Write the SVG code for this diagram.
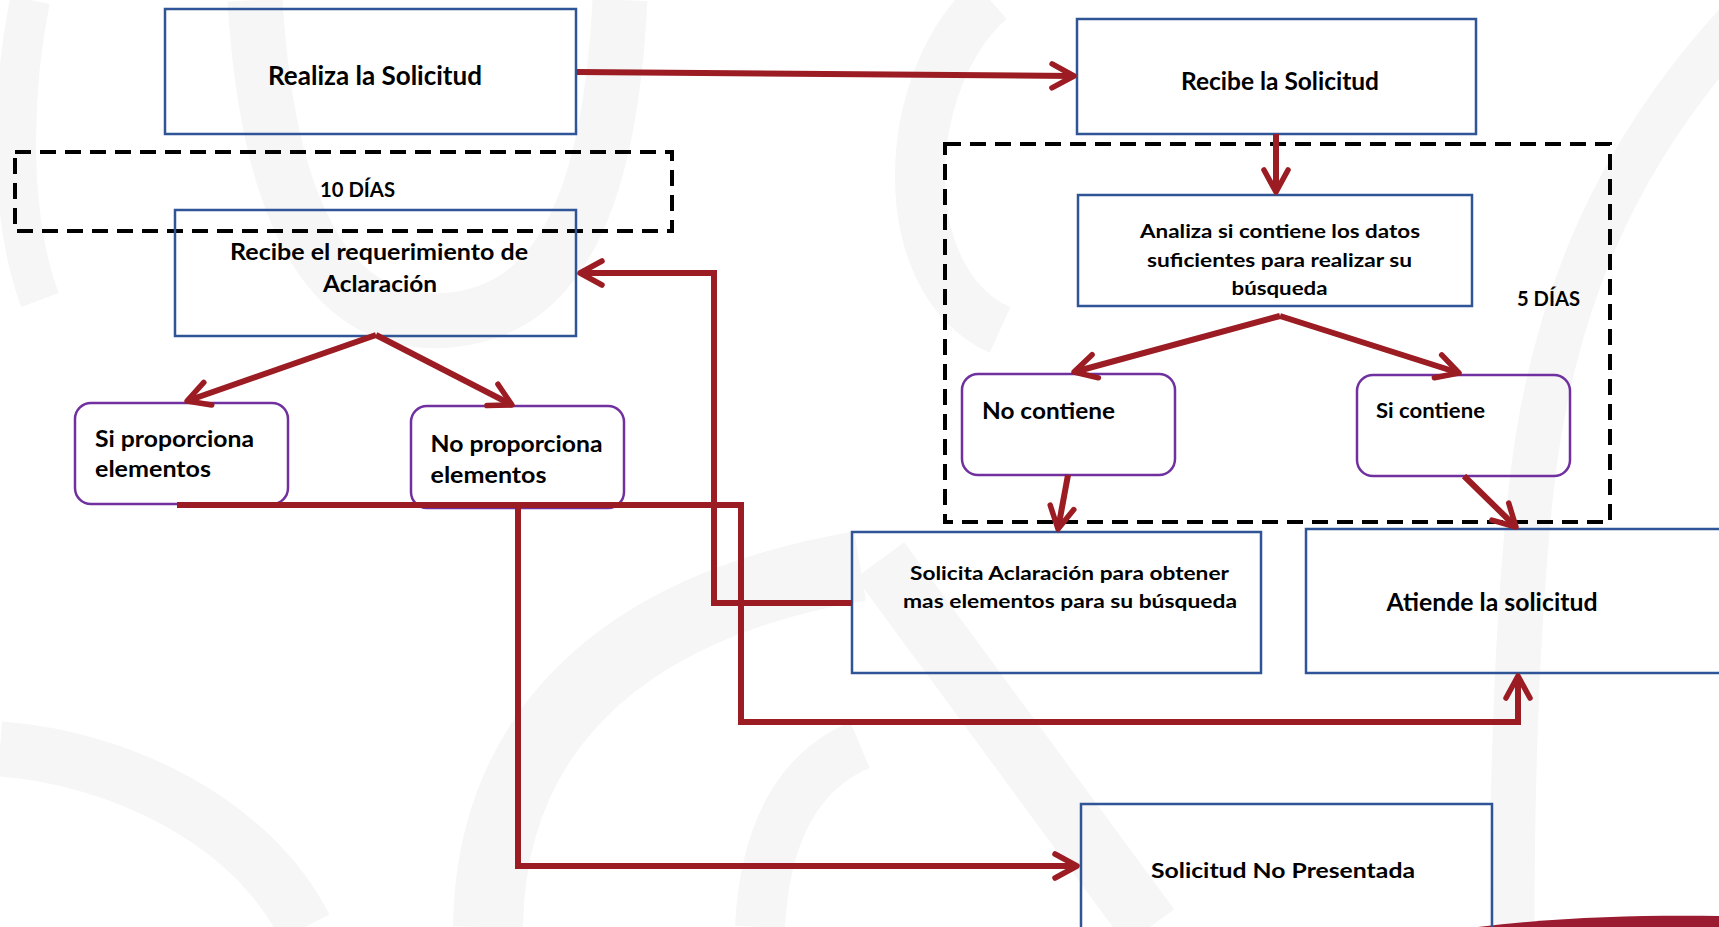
<svg xmlns="http://www.w3.org/2000/svg" width="1719" height="927" viewBox="0 0 1719 927">
  <style>
    .box { fill: none; stroke: #2F5597; stroke-width: 2.5; }
    .rbox { fill: none; stroke: #7030A0; stroke-width: 2.5; }
    .dash { fill: none; stroke: #000; stroke-width: 4; stroke-dasharray: 16 9; }
    .conn { fill: none; stroke: #9C1C23; stroke-width: 6; stroke-linejoin: miter; }
    .t { font-family: Lato, "Liberation Sans", sans-serif; font-weight: bold; fill: #000; }
    .wm { fill: none; stroke: #F6F6F6; stroke-linecap: butt; }
  </style>
  <defs>
    <marker id="arr" markerUnits="userSpaceOnUse" viewBox="-26 -15 30 30" refX="0" refY="0" markerWidth="30" markerHeight="30" orient="auto" overflow="visible">
      <path d="M-22,-12 L0,0 L-22,12" fill="none" stroke="#9C1C23" stroke-width="5.5" stroke-linecap="round" stroke-linejoin="round"/>
    </marker>
  </defs>
  <rect width="1719" height="927" fill="#fff"/>
  <g id="watermark">
    <path class="wm" stroke-width="45" d="M1740,20 C1620,150 1550,300 1530,500 C1515,650 1512,800 1512,927"/>
    <path class="wm" stroke-width="55" d="M0,749 C120,758 250,820 305,927"/>
    <path class="wm" stroke-width="70" d="M488,927 C490,750 600,610 860,566"/>
    <path class="wm" stroke-width="50" d="M760,927 C765,830 800,770 860,745"/>
    <path class="wm" stroke-width="60" d="M880,560 L1150,927"/>
    <path class="wm" stroke-width="40" d="M30,0 C10,100 10,220 40,300"/>
    <path class="wm" stroke-width="55" d="M255,0 C270,250 350,330 450,320 C560,310 610,200 620,0"/>
    <path class="wm" stroke-width="50" d="M990,0 C900,80 890,280 1000,330"/>
  </g>
  <path d="M1478,927 C1560,917 1640,915 1719,916 L1719,927 Z" fill="#9B1B30"/>

  <g id="dias10">
    <rect class="dash" x="15" y="152" width="657" height="79"/>
    <text class="t" x="320" y="197" font-size="20.5" textLength="75" lengthAdjust="spacingAndGlyphs">10 DÍAS</text>
  </g>
  <g id="dias5">
    <rect class="dash" x="945" y="144" width="665" height="378"/>
    <text class="t" x="1517" y="305.5" font-size="20" textLength="63" lengthAdjust="spacingAndGlyphs">5 DÍAS</text>
  </g>

  <g id="realiza">
    <rect class="box" x="165" y="9" width="411" height="125"/>
    <text class="t" x="268" y="85" font-size="26" textLength="214" lengthAdjust="spacingAndGlyphs">Realiza la Solicitud</text>
  </g>
  <g id="recibe">
    <rect class="box" x="1077" y="19" width="399" height="115"/>
    <text class="t" x="1181" y="90" font-size="24" textLength="198" lengthAdjust="spacingAndGlyphs">Recibe la Solicitud</text>
  </g>
  <g id="requerimiento">
    <rect class="box" x="175" y="210" width="401" height="126"/>
    <text class="t" x="230" y="260" font-size="22" textLength="298" lengthAdjust="spacingAndGlyphs">Recibe el requerimiento de</text>
    <text class="t" x="323" y="292" font-size="22" textLength="114" lengthAdjust="spacingAndGlyphs">Aclaración</text>
  </g>
  <g id="analiza">
    <rect class="box" x="1078" y="195" width="394" height="111"/>
    <text class="t" x="1140" y="238" font-size="19" textLength="280" lengthAdjust="spacingAndGlyphs">Analiza si contiene los datos</text>
    <text class="t" x="1147" y="267" font-size="19" textLength="265" lengthAdjust="spacingAndGlyphs">suficientes para realizar su</text>
    <text class="t" x="1231.5" y="295" font-size="19" textLength="96" lengthAdjust="spacingAndGlyphs">búsqueda</text>
  </g>
  <g id="nocontiene">
    <rect class="rbox" x="962" y="374" width="213" height="101" rx="16"/>
    <text class="t" x="982" y="419" font-size="23" textLength="133" lengthAdjust="spacingAndGlyphs">No contiene</text>
  </g>
  <g id="sicontiene">
    <rect class="rbox" x="1357" y="375" width="213" height="101" rx="16"/>
    <text class="t" x="1376" y="418" font-size="20" textLength="109" lengthAdjust="spacingAndGlyphs">Si contiene</text>
  </g>
  <g id="solicita">
    <rect class="box" x="852" y="532" width="409" height="141"/>
    <text class="t" x="910" y="580" font-size="19.5" textLength="319" lengthAdjust="spacingAndGlyphs">Solicita Aclaración para obtener</text>
    <text class="t" x="903" y="608" font-size="19.5" textLength="334" lengthAdjust="spacingAndGlyphs">mas elementos para su búsqueda</text>
  </g>
  <g id="atiende">
    <rect class="box" x="1306" y="529" width="430" height="144"/>
    <text class="t" x="1386.5" y="611" font-size="24" textLength="211" lengthAdjust="spacingAndGlyphs">Atiende la solicitud</text>
  </g>
  <g id="nopresentada">
    <rect class="box" x="1081" y="804" width="411" height="140"/>
    <text class="t" x="1151" y="878" font-size="21.5" textLength="264" lengthAdjust="spacingAndGlyphs">Solicitud No Presentada</text>
  </g>
  <g id="siproporciona">
    <rect class="rbox" x="75" y="403" width="213" height="101" rx="16"/>
    <text class="t" x="95" y="447" font-size="23" textLength="159" lengthAdjust="spacingAndGlyphs">Si proporciona</text>
    <text class="t" x="95" y="477" font-size="23" textLength="116" lengthAdjust="spacingAndGlyphs">elementos</text>
  </g>
  <g id="noproporciona">
    <rect class="rbox" x="411" y="406" width="213" height="102" rx="16"/>
    <text class="t" x="430.5" y="452" font-size="22" textLength="172" lengthAdjust="spacingAndGlyphs">No proporciona</text>
    <text class="t" x="430.5" y="483" font-size="22" textLength="116" lengthAdjust="spacingAndGlyphs">elementos</text>
  </g>

  <g id="connectors">
    <path class="conn" d="M577,72 L1074,76" marker-end="url(#arr)"/>
    <path class="conn" d="M1276,134 L1276,192" marker-end="url(#arr)"/>
    <path class="conn" d="M1280,316 L1074,372" marker-end="url(#arr)"/>
    <path class="conn" d="M1280,316 L1459,373" marker-end="url(#arr)"/>
    <path class="conn" d="M376,335 L187,401" marker-end="url(#arr)"/>
    <path class="conn" d="M376,335 L512,405" marker-end="url(#arr)"/>
    <path class="conn" d="M1068,475 L1058,529" marker-end="url(#arr)"/>
    <path class="conn" d="M1464,476 L1516,527" marker-end="url(#arr)"/>
    <path class="conn" d="M177,505 H741 V722 H1518 V676" marker-end="url(#arr)"/>
    <path class="conn" d="M518,505 V866 H1077" marker-end="url(#arr)"/>
    <path class="conn" d="M852,603 H714 V273 H580" marker-end="url(#arr)"/>
  </g>
</svg>
